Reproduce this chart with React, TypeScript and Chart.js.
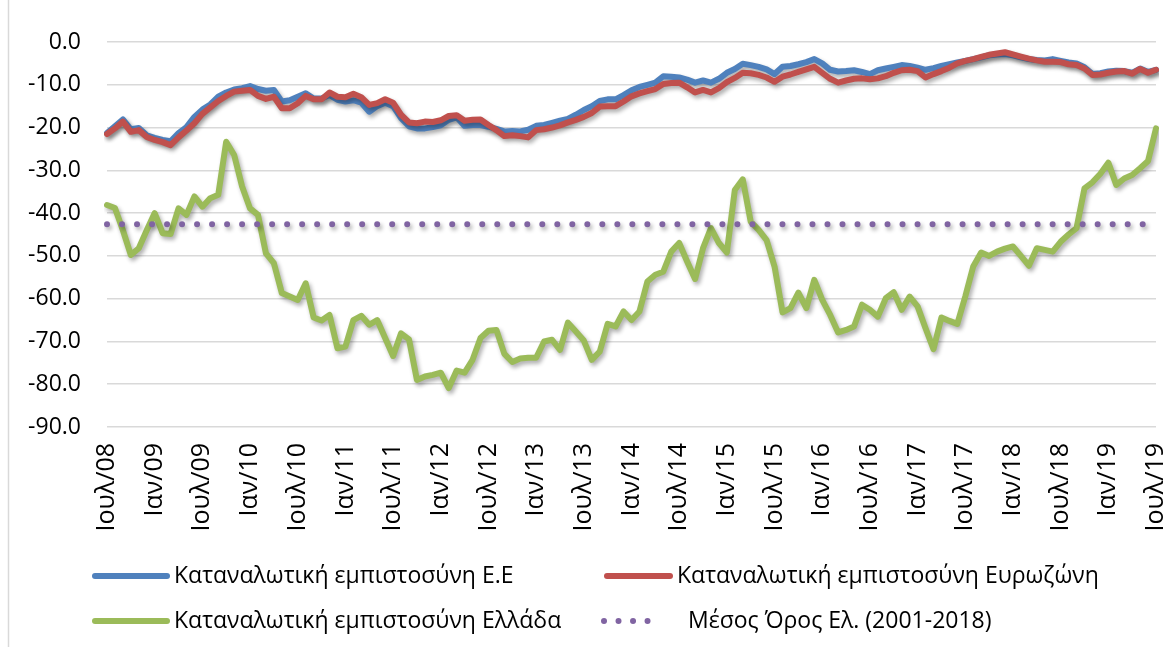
import React, { useEffect, useRef } from 'react';
import { Chart, registerables } from 'chart.js';

Chart.register(...registerables);

// ---------------- DATA ----------------
const MONTHS = ['Ιαν', 'Φεβ', 'Μαρ', 'Απρ', 'Μαϊ', 'Ιουν', 'Ιουλ', 'Αυγ', 'Σεπ', 'Οκτ', 'Νοε', 'Δεκ'];

// monthly categories Ιουλ/08 ... Ιουλ/19 (133 months)
const CATEGORIES: string[] = [];
for (let k = 0; k < 133; k++) {
  const m = (6 + k) % 12;
  const y = 8 + Math.floor((6 + k) / 12);
  CATEGORIES.push(`${MONTHS[m]}/${String(y).padStart(2, '0')}`);
}

const TICK_LABELS = [
  'Ιουλ/08', 'Ιαν/09', 'Ιουλ/09', 'Ιαν/10', 'Ιουλ/10', 'Ιαν/11', 'Ιουλ/11', 'Ιαν/12',
  'Ιουλ/12', 'Ιαν/13', 'Ιουλ/13', 'Ιαν/14', 'Ιουλ/14', 'Ιαν/15', 'Ιουλ/15', 'Ιαν/16',
  'Ιουλ/16', 'Ιαν/17', 'Ιουλ/17', 'Ιαν/18', 'Ιουλ/18', 'Ιαν/19', 'Ιουλ/19',
];

const Y_TICKS = [0, -10, -20, -30, -40, -50, -60, -70, -80, -90];

const EU = [
  -21.3, -19.7, -18.1, -20.4, -20.1, -21.8, -22.4, -22.9, -23.2, -21.3,
  -19.9, -17.5, -15.8, -14.6, -12.8, -11.8, -11.1, -10.8, -10.3, -11.0,
  -11.4, -11.2, -13.9, -13.6, -12.8, -12.0, -13.2, -13.2, -12.4, -13.5,
  -13.9, -13.6, -14.2, -16.3, -15.0, -14.2, -15.0, -17.8, -19.7, -20.2,
  -20.2, -19.9, -19.5, -18.2, -17.6, -19.6, -19.4, -19.4, -19.8, -20.3,
  -20.9, -20.8, -20.9, -20.5, -19.6, -19.4, -18.9, -18.4, -18.0, -17.0,
  -15.9, -15.0, -13.8, -13.4, -13.4, -12.4, -11.3, -10.5, -10.0, -9.5,
  -8.0, -8.1, -8.3, -8.8, -9.5, -9.0, -9.5, -8.6, -7.2, -6.3,
  -5.1, -5.4, -5.8, -6.4, -7.5, -5.8, -5.6, -5.2, -4.7, -4.0,
  -5.0, -6.5, -6.9, -6.8, -6.6, -7.0, -7.5, -6.6, -6.2, -5.8,
  -5.4, -5.6, -6.0, -6.5, -6.1, -5.6, -5.2, -4.8, -4.4, -4.0,
  -3.6, -3.1, -2.9, -2.8, -3.1, -3.6, -4.0, -4.2, -4.3, -4.0,
  -4.4, -4.8, -5.0, -5.9, -7.5, -7.3, -6.9, -6.7, -6.8, -7.2,
  -6.2, -7.0, -6.5,
];

const EUROZONE = [
  -21.5, -20.2, -18.6, -21.0, -20.6, -22.2, -22.9, -23.4, -24.1, -22.3,
  -20.7, -19.0, -16.8, -15.3, -13.8, -12.6, -11.6, -11.4, -11.2, -12.6,
  -13.3, -12.8, -15.5, -15.5, -14.3, -12.6, -13.4, -13.4, -11.8, -12.8,
  -12.9, -12.1, -12.9, -14.7, -14.3, -13.4, -14.2, -17.0, -18.8, -19.0,
  -18.6, -18.7, -18.3, -17.3, -17.1, -18.4, -18.2, -18.1, -19.4, -20.6,
  -22.0, -21.8, -22.0, -22.3, -20.6, -20.4, -20.0, -19.5, -18.8, -18.2,
  -17.5, -16.6, -15.1, -15.0, -15.0, -13.9, -12.7, -12.0, -11.5, -11.0,
  -9.8, -9.6, -9.5, -10.6, -11.8, -11.2, -11.8, -10.8, -9.4, -8.4,
  -7.2, -7.3, -7.7, -8.3, -9.3, -8.1, -7.6, -7.0, -6.4, -5.8,
  -7.2, -8.6, -9.5, -9.0, -8.6, -8.5, -8.7, -8.5, -8.0, -7.2,
  -6.6, -6.5, -6.8, -8.3, -7.5, -6.8, -6.0, -5.0, -4.4, -4.0,
  -3.5, -3.0, -2.7, -2.4, -2.9, -3.4, -3.9, -4.3, -4.6, -4.6,
  -4.7, -5.2, -5.4, -6.2, -7.7, -7.6, -7.2, -6.9, -6.8, -7.4,
  -6.3, -7.2, -6.5,
];

const GREECE = [
  -38.1, -38.8, -44.0, -49.8, -48.2, -44.0, -40.0, -44.7, -44.9, -38.9,
  -40.4, -36.1, -38.5, -36.5, -35.7, -23.3, -26.4, -33.8, -38.9, -40.4,
  -49.4, -51.7, -58.7, -59.5, -60.3, -56.4, -64.4, -65.1, -63.8, -71.6,
  -71.2, -65.0, -64.0, -66.1, -65.0, -69.2, -73.4, -68.1, -69.5, -79.0,
  -78.2, -77.8, -77.3, -80.9, -76.8, -77.3, -74.3, -69.2, -67.5, -67.3,
  -72.9, -74.8, -74.0, -73.8, -73.8, -70.0, -69.6, -72.0, -65.6, -67.7,
  -69.8, -74.3, -72.4, -65.9, -66.5, -63.0, -65.0, -63.0, -56.0, -54.4,
  -53.7, -49.0, -47.0, -51.3, -55.4, -48.2, -43.5, -47.0, -49.2, -34.6,
  -32.1, -42.0, -43.9, -46.3, -52.5, -63.2, -62.2, -58.6, -62.2, -55.6,
  -60.3, -63.8, -67.9, -67.3, -66.5, -61.4, -62.6, -64.2, -59.9, -58.5,
  -62.6, -59.5, -61.8, -66.9, -71.8, -64.4, -65.2, -65.9, -59.5, -52.5,
  -49.2, -50.0, -49.0, -48.3, -47.8, -50.0, -52.3, -48.2, -48.6, -49.0,
  -46.7, -45.0, -43.5, -34.2, -32.8, -30.8, -28.2, -33.4, -31.9, -31.1,
  -29.5, -27.8, -20.2,
];

const GREECE_AVG_2001_2018 = -42.6;

const SERIES_NAMES = [
  'Καταναλωτική εμπιστοσύνη Ε.Ε',
  'Καταναλωτική εμπιστοσύνη Ευρωζώνη',
  'Καταναλωτική εμπιστοσύνη Ελλάδα',
  'Μέσος Όρος Ελ. (2001-2018)',
];

// ---------------- STYLE ----------------
const COLORS = ['#4F81BD', '#C0504D', '#9BBB59', '#8064A2'];
const FONT_FAMILY = '"Open Sans", "Noto Sans", sans-serif';
const W = 1175;
const H = 647;

const shadowPlugin = {
  id: 'excelShadow',
  beforeDatasetDraw(chart: any) {
    const c = chart.ctx;
    c.save();
    c.shadowColor = 'rgba(0,0,0,0.32)';
    c.shadowBlur = 4;
    c.shadowOffsetX = 2;
    c.shadowOffsetY = 3;
  },
  afterDatasetDraw(chart: any) {
    chart.ctx.restore();
  },
};

const framePlugin = {
  id: 'frame',
  beforeDraw(chart: any) {
    const c = chart.ctx;
    c.save();
    c.fillStyle = '#ffffff';
    c.fillRect(0, 0, chart.width, chart.height);
    c.strokeStyle = '#d9d9d9';
    c.lineWidth = 1.5;
    c.beginPath();
    c.moveTo(8.5, 0);
    c.lineTo(8.5, chart.height);
    c.stroke();
    c.restore();
  },
};

// legend layout: [lineX0, lineX1, textX, y]
const LEGEND_POS = [
  [95, 167, 174, 576],
  [607, 670, 677, 576],
  [95, 167, 174, 621],
  [604, 662, 688, 621],
];

const legendPlugin = {
  id: 'excelLegend',
  afterDraw(chart: any) {
    const c = chart.ctx;
    c.save();
    c.font = `23px ${FONT_FAMILY}`;
    c.textBaseline = 'middle';
    SERIES_NAMES.forEach((name, i) => {
      const [x0, x1, tx, y] = LEGEND_POS[i];
      c.save();
      c.strokeStyle = COLORS[i];
      c.lineCap = 'round';
      c.lineWidth = 6;
      if (i === 3) c.setLineDash([0.01, 14.5]);
      c.beginPath();
      c.moveTo(x0, y);
      c.lineTo(x1, y);
      c.stroke();
      c.restore();
      c.fillStyle = '#000000';
      c.fillText(name, tx, y);
    });
    c.restore();
  },
};

export default function App() {
  const canvasRef = useRef<HTMLCanvasElement | null>(null);

  useEffect(() => {
    if (!canvasRef.current) return;
    const line = (i: number, data: any, order: number) => ({
      label: SERIES_NAMES[i],
      data,
      borderColor: COLORS[i],
      borderWidth: 6,
      pointRadius: 0,
      borderJoinStyle: 'round',
      borderCapStyle: 'round',
      tension: 0,
      order,
    });
    const chart = new Chart(canvasRef.current, {
      type: 'line',
      data: {
        labels: CATEGORIES,
        datasets: [
          line(0, EU, 4),
          line(1, EUROZONE, 3),
          line(2, GREECE, 2),
          {
            label: SERIES_NAMES[3],
            data: [
              { x: CATEGORIES[0], y: GREECE_AVG_2001_2018 },
              { x: CATEGORIES[CATEGORIES.length - 1], y: GREECE_AVG_2001_2018 },
            ],
            borderColor: COLORS[3],
            borderWidth: 6,
            borderDash: [0.01, 15],
            borderCapStyle: 'round',
            pointRadius: 0,
            tension: 0,
            order: 1,
          },
        ],
      },
      options: {
        responsive: false,
        animation: false,
        devicePixelRatio: 1,
        layout: { padding: { left: 0, right: 19, top: 42, bottom: 100 } },
        plugins: {
          legend: { display: false },
          tooltip: { enabled: false },
        },
        scales: {
          x: {
            type: 'category',
            offset: false,
            grid: { display: false, drawTicks: false },
            border: { display: false },
            ticks: {
              autoSkip: false,
              maxRotation: 90,
              minRotation: 90,
              padding: 16,
              color: '#000000',
              font: { family: FONT_FAMILY, size: 25 },
              callback: (_v: any, idx: number) => (idx % 6 === 0 ? TICK_LABELS[idx / 6] : ''),
            },
            afterFit: (s: any) => {
              s.height = 120;
              s.paddingLeft = 0;
              s.paddingRight = 0;
            },
          },
          y: {
            min: Y_TICKS[Y_TICKS.length - 1],
            max: Y_TICKS[0],
            grid: { color: '#d9d9d9', lineWidth: 1.5, drawTicks: false },
            border: { display: false },
            ticks: {
              stepSize: 10,
              padding: 26,
              color: '#000000',
              font: { family: FONT_FAMILY, size: 23 },
              callback: (v: any) => (Math.abs(Number(v)) < 1e-9 ? '0.0' : Number(v).toFixed(1)),
            },
            afterFit: (s: any) => {
              s.width = 107;
            },
          },
        },
      },
      plugins: [framePlugin, shadowPlugin, legendPlugin],
    } as any);
    return () => chart.destroy();
  }, []);

  return (
    <div style={{ position: 'fixed', left: 0, top: 0, width: W, height: H, background: '#fff' }}>
      <canvas ref={canvasRef} width={W} height={H} style={{ width: W, height: H, display: 'block' }} />
    </div>
  );
}
